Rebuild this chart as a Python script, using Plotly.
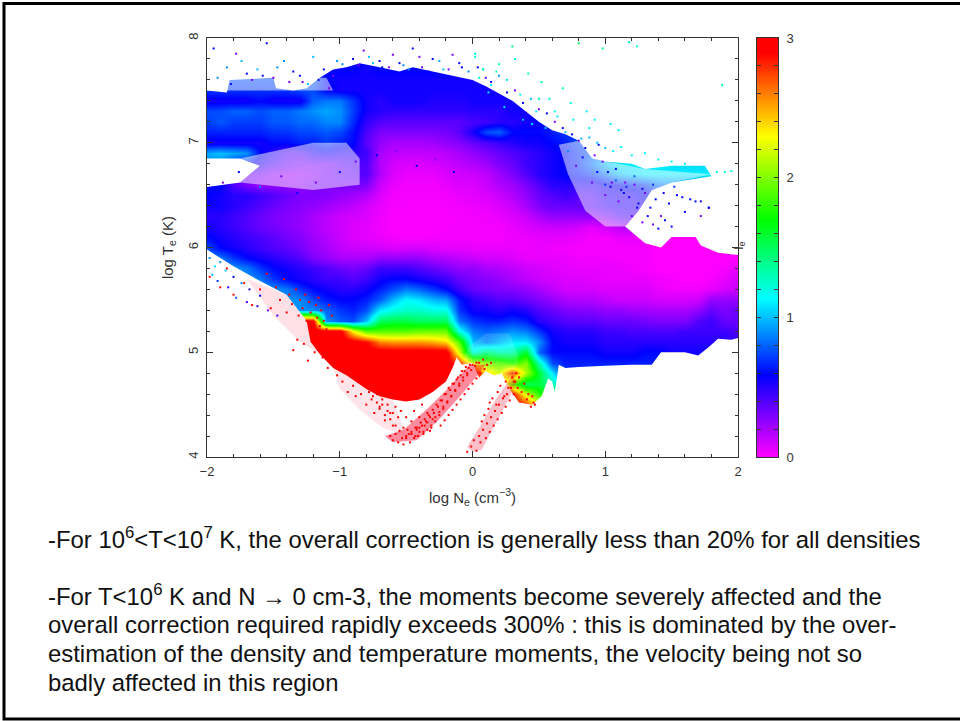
import plotly.graph_objects as go

N = None
# ---- map of I_e: (first log Ne, [I_e every 0.1 dex]) one row per log Te
t78 = (-1.1, [.6,.6,.6,.6,.6,.6,.6,.6])
t77 = (-1.1, [.6,.6,.6,.55,.6,.6,.6,.6,.6,.6,.6,.6])
t76 = (-2.0, [.8,.8,.75,.75,.75,.75,.75,.75,.8,.6,.55,.55,.55,.55,.55,.55,.55,.55,.55,.55,.55,.55,.55])
t75 = (-2.0, [.7,.7,.7,.7,.7,.7,.7,.75,.75,.6,.55,.55,.55,.55,.55,.55,.55,.55,.55,.55,.55,.55,.55,.55])
t74 = (-2.0, [.55,.55,.55,.55,.6,.55,.55,.55,.8,.85,.85,.7,.55,.5,.55,.55,.55,.52,.52,.52,.55,.55,.55,.55,.6])
t73 = (-2.0, [.75,.75,.8,.8,.75,.8,.8,.85,.9,.95,.9,.72,.55,.5,.48,.48,.48,.48,.48,.48,.5,.5,.5,.55,.55,.6])
t72 = (-2.0, [.72,.78,.72,.72,.72,.78,.78,.82,.82,.88,.88,.68,.48,.4,.38,.38,.38,.38,.38,.38,.42,.45,.5,.5,.55,.6,.65])
t71 = (-2.0, [.66,.66,.66,.66,.66,.7,.7,.74,.74,.78,.74,.62,.42,.3,.3,.3,.3,.3,.32,.38,.55,.75,.8,.6,.6,.6,.65,.7,.7])
t70 = (-2.0, [.55,.55,.55,.55,.55,.6,.6,.65,.65,.7,.65,.6,.38,.25,.2,.2,.2,.22,.25,.28,.35,.4,.45,.5,.55,.55,.6,.65,.75,.75])
t69 = (-2.0, [.95,1.0,.95,.9,.6,.5,.4,.4,.5,.55,.5,.5,.45,.2,.15,.14,.14,.14,.16,.2,.25,.3,.35,.4,.45,.5,.55,.6,.7,.8,.85])
t68 = (-2.0, [.9,.9,.7,.6,.5,.4,.35,.3,.3,.3,.35,.4,.4,.18,.1,.08,.08,.1,.12,.15,.18,.22,.3,.35,.45,.5,.55,.6,.7,.85,1,1.1,1.1,1.1,1.1])
t67 = (-2.0, [.6,.6,.5,.35,.3,.25,.22,.22,.25,.3,.35,.35,.4,.18,.08,.05,.05,.05,.08,.1,.12,.15,.22,.3,.4,.5,.55,.6,.65,.7,.85,1.0,1.05,1.1,1.1,1.1,1.1,1.1,1.1])
t66 = (-2.0, [.6,.6,.4,.3,.25,.25,.25,.25,.3,.3,.3,.32,.3,.12,.05,.03,.03,.03,.05,.08,.08,.12,.18,.22,.3,.4,.5,.5,.5,.5,.55,.6,.65,.7])
t65 = (-2.0, [.6,.55,.5,.5,.45,.4,.35,.3,.3,.28,.25,.22,.18,.08,.03,.02,.02,.02,.03,.05,.06,.08,.12,.18,.25,.35,.4,.45,.4,.4,.5,.5,.5])
t64 = (-2.0, [.55,.55,.5,.45,.4,.35,.3,.28,.25,.22,.18,.15,.1,.05,.02,.02,.01,.01,.02,.03,.04,.05,.08,.12,.2,.3,.35,.35,.35,.4,.45,.5])
t63 = (-2.0, [.5,.5,.45,.4,.35,.3,.28,.25,.2,.16,.12,.1,.08,.04,.01,.01,.01,.01,.01,.02,.03,.03,.05,.08,.12,.2,.25,.25,.25,.25,.3,.4,.45])
t62 = (-2.0, [.55,.5,.45,.4,.35,.32,.28,.25,.2,.15,.12,.08,.06,.03,.01,.01,.01,.01,.02,.02,.02,.02,.03,.05,.08,.1,.12,.12,.1,.06,.1,.15,.2,.2])
t61 = (-2.0, [.6,.55,.5,.45,.42,.38,.32,.28,.22,.18,.12,.08,.06,.04,.02,.01,.01,.02,.02,.02,.02,.02,.02,.04,.04,.06,.06,.06,.04,.02,.02,.05,.05,.05,.02,0,0,0,0])
t60 = (-2.0, [.75,.6,.55,.5,.45,.4,.38,.32,.25,.2,.15,.12,.12,.1,.08,.1,.1,.08,.06,.06,.05,.05,.05,.05,.03,.05,.03,.03,.02,.02,.02,.02,.02,.02,0,0,0,0,0,0,0])
t59 = (-2.0, [.9,.85,.7,.6,.55,.5,.45,.4,.3,.25,.2,.2,.2,.25,.25,.25,.25,.2,.18,.15,.12,.1,.1,.08,.05,.05,.05,.05,.03,.03,.03,.02,.02,.02,0,0,0,0,0,0,0])
t58 = (-2.0, [.9,.9,.9,.85,.7,.6,.55,.5,.45,.4,.35,.32,.35,.45,.45,.45,.4,.35,.3,.25,.25,.2,.18,.15,.12,.1,.08,.06,.05,.05,.05,.05,.03,.02,0,0,0,0,0,.02,.05])
t57 = (-2.0, [.9,.9,.9,.9,.85,.7,.6,.55,.5,.45,.45,.4,.45,.55,.6,.6,.55,.5,.45,.35,.3,.28,.25,.2,.15,.12,.1,.08,.08,.07,.05,.05,.05,.05,.03,.02,0,0,.02,.05,.1])
t56 = (-1.6, [.9,.9,.85,.7,.6,.55,.5,.5,.55,.65,.75,.85,.8,.7,.6,.45,.35,.32,.3,.28,.25,.2,.15,.1,.1,.1,.08,.08,.08,.08,.05,.03,.03,.03,.06,.1,.12])
t55 = (-1.5, [.9,.9,.9,.75,.65,.6,.6,.65,.8,1.0,1.15,1.1,1.0,.95,.65,.5,.45,.4,.4,.35,.3,.25,.2,.18,.18,.15,.12,.12,.12,.1,.1,.1,.12,.25,.25,.25])
t54 = (-1.4, [.9,.9,.9,.8,.7,.65,.75,1.1,1.2,1.25,1.25,1.2,1.2,.7,.55,.55,.5,.55,.5,.4,.35,.3,.28,.28,.25,.25,.22,.22,.2,.2,.2,.25,.35,.3,.35])
t53 = (-1.4, [3,3,3,.9,.8,.75,1.0,1.5,1.55,1.55,1.5,1.5,1.5,.85,.7,.65,.65,.7,.65,.5,.45,.4,.38,.38,.35,.35,.35,.32,.3,.3,.3,.4,.45,.35,.35])
t52 = (-1.4, [3,3,3,3,3,2.3,1.9,1.9,1.9,1.9,1.95,1.95,1.95,1.2,.85,.8,.85,.9,.85,.7,.55,.5,.5,.5,.45,.45,.42,.42,.42,.42,.45,.45,.45,.45,.4])
t51 = (-1.4, [3,3,3,3,3,3,2.9,2.6,2.55,2.55,2.55,2.5,2.4,1.9,1.0,.9,1.0,1.1,1.1,.9,.6,.55,.55,.55,.5,.5,.5,.5,.5,.5,.5,.5,.5,.5,.45])
t50 = (-1.4, [3,3,3,3,3,3,3,3,3,3,3,3,3,2.2,1.2,1.4,1.3,1.3,1.6,.8,.6,.6,.6,.6,.55,.55,.55,.6,.6,.55,.55,.55,.55,.5,.45])
t49 = (-1.4, [3,3,3,3,3,3,3,3,3,3,3,3,3,2.8,2.2,2.0,1.9,1.8,2.0,1.3,.75,.65,.65,.65,.65,.65,.65,.65,.65,.6,.6,.6,.6,.6,.6])
t48 = (-1.4, [3,3,3,3,3,3,3,3,3,3,3,3,3,3,3,2.4,2.2,2.8,2.1,1.6,1.1,.7,.7,.7,.7,.7,.7,.7])
t47 = (-1.1, [3,3,3,3,3,3,3,3,3,3,3,3,3,2.6,1.9,1.5])
t46 = (-1.0, [3,3,3,3,3,3,3,3,3,3,3,3,3,2.9,2.2,1.8])
t45 = (-1.0, [3,3,3,3,3,3,3,3,3,3,3,3,3,3,2.8,2.2])
map_rows = {7.8:t78,7.7:t77,7.6:t76,7.5:t75,7.4:t74,7.3:t73,7.2:t72,7.1:t71,7.0:t70,6.9:t69,6.8:t68,6.7:t67,
            6.6:t66,6.5:t65,6.4:t64,6.3:t63,6.2:t62,6.1:t61,6.0:t60,5.9:t59,5.8:t58,5.7:t57,5.6:t56,
            5.5:t55,5.4:t54,5.3:t53,5.2:t52,5.1:t51,5.0:t50,4.9:t49,4.8:t48,4.7:t47,4.6:t46,4.5:t45}

# ---- outlines of the covered area (outside is blank)
top_x = [-2.05,-2.0,-1.85,-1.83,-1.5,-1.48,-1.35,-1.25,-1.15,-1.05,-0.95,-0.85,-0.7,-0.55,-0.45,-0.3,-0.1,0,0.1,0.2,0.3,0.4,0.5,0.6,0.7,0.8,0.9,1.0,1.2,1.3,1.5,1.75,1.8,1.5,1.35,1.25,1.15,1.3,1.42,1.5,1.68,1.72,1.85,2.05,2.05,-2.05]
top_t = [7.5,7.5,7.48,7.6,7.62,7.52,7.5,7.52,7.62,7.7,7.72,7.76,7.72,7.68,7.72,7.68,7.62,7.6,7.54,7.47,7.4,7.3,7.2,7.12,7.08,7.02,6.85,6.82,6.8,6.75,6.78,6.78,6.68,6.62,6.55,6.35,6.2,6.04,6.0,6.1,6.1,6.02,5.95,5.92,8.05,8.05]
notch_x = [-2.05,-1.75,-1.6,-1.75,-2.05]
notch_t = [6.85,6.85,6.78,6.62,6.57]
low_x = [-2.05,-2.0,-1.8,-1.6,-1.4,-1.25,-1.22,-1.15,-1.05,-0.95,-0.8,-0.7,-0.6,-0.5,-0.4,-0.3,-0.2,-0.15,-0.12,-0.08,0.0,0.05,0.1,0.16,0.22,0.28,0.35,0.45,0.52,0.57,0.6,0.62,0.65,0.7,0.8,1.0,1.2,1.35,1.42,1.6,1.7,1.78,1.85,1.95,2.05,2.05,-2.05]
low_t = [6.02,5.98,5.82,5.68,5.55,5.3,5.1,4.98,4.85,4.78,4.65,4.58,4.55,4.53,4.55,4.62,4.72,4.85,4.95,4.88,4.9,4.76,4.82,4.78,4.8,4.65,4.52,4.5,4.58,4.75,4.72,4.62,4.88,4.85,4.86,4.87,4.88,4.88,5.0,5.0,4.97,5.05,5.13,5.12,5.15,3.95,3.95]
# thinly covered parts (paler)
thin1_x = [-1.75,-1.2,-0.95,-0.85,-0.85,-1.2,-1.75,-1.6]
thin1_t = [6.85,7.0,7.0,6.85,6.6,6.55,6.62,6.78]
thin2_x = [0.65,0.8,0.9,1.3,1.8,1.5,1.35,1.25,1.15,1.0,0.85,0.72]
thin2_t = [6.98,7.02,6.85,6.75,6.7,6.62,6.55,6.35,6.2,6.2,6.35,6.7]
thin3_x = [-2.05,-1.1,-1.05,-1.3,-2.05]
thin3_t = [7.62,7.62,7.5,7.5,7.5]
thin4_x = [-0.08,0.0,0.1,0.22,0.28,0.35,0.28,0.1,-0.03]
thin4_t = [4.88,4.9,4.82,4.8,4.65,4.95,5.18,5.18,5.05]
# faint reddish streaks and halo
trail1_x = [-0.6,-0.42,-0.25,-0.1,0.05,0.1,-0.02,-0.18,-0.34,-0.52,-0.66]
trail1_t = [4.14,4.16,4.36,4.57,4.8,4.88,4.88,4.66,4.46,4.26,4.2]
trail2_x = [0.0,0.07,0.2,0.34,0.3,0.17,0.05,-0.04]
trail2_t = [4.05,4.07,4.38,4.72,4.78,4.54,4.28,4.1]
halo1_x = [-1.7,-1.4,-1.25,-1.22,-1.15,-1.3,-1.5]
halo1_t = [5.7,5.55,5.3,5.1,4.98,5.1,5.35]
halo2_x = [-1.05,-0.95,-0.8,-0.7,-0.6,-0.5,-0.68,-0.85,-1.0]
halo2_t = [4.85,4.78,4.65,4.58,4.55,4.2,4.28,4.45,4.65]

# ---- individually visible points
red_x = [-1.98,-1.9,-1.85,-1.8,-1.72,-1.66,-1.6,-1.55,-1.52,-1.48,-1.45,-1.42,-1.4,-1.38,-1.36,-1.33,-1.31,-1.3,-1.28,-1.26,-1.25,-1.23,-1.22,-1.2,-1.18,-1.17,-1.16,-1.15,-1.14,-1.12,-1.1,-1.08,-1.06,-1.05,
         -1.35,-1.32,-1.27,-1.24,-1.21,-1.19,-1.16,-1.13,-1.11,-1.09,-1.06,-1.04,-1.02,-1.0,-0.98,-0.96,-0.94,-0.92,-0.9,-0.88,-0.86,-0.84,-0.82,-0.8,-0.78,-0.76,-0.74,-0.72,-0.7,-0.68,-0.66,-0.64,-0.62,-0.6,-0.58,
         -0.95,-0.9,-0.86,-0.82,-0.78,-0.75,-0.72,-0.7,-0.68,-0.66,-0.64,-0.62,-0.6,-0.58,-0.56,-0.54,-0.52,-0.5,-0.48,-0.46,-0.44,-0.42,-0.4,-0.38,-0.36,-0.34,-0.32,-0.3,
         -0.62,-0.6,-0.58,-0.56,-0.55,-0.53,-0.52,-0.5,-0.49,-0.47,-0.46,-0.44,-0.43,-0.41,-0.4,-0.38,-0.37,-0.35,-0.34,-0.32,-0.31,-0.29,-0.28,-0.26,-0.25,-0.23,-0.22,-0.2,-0.19,-0.17,-0.16,-0.14,-0.13,-0.11,-0.1,-0.08,-0.07,-0.05,-0.04,-0.02,
         -0.5,-0.46,-0.43,-0.4,-0.37,-0.34,-0.31,-0.28,-0.25,-0.22,-0.19,-0.16,-0.13,-0.1,-0.07,-0.04,-0.01,0.02,0.05,0.08,-0.24,-0.21,-0.18,-0.15,-0.12,-0.09,-0.06,-0.03,0.0,0.03,0.06,0.09,0.11,0.14,
         -0.42,-0.39,-0.36,-0.33,-0.3,-0.27,-0.24,-0.21,-0.18,-0.15,-0.12,-0.09,-0.06,-0.03,0.0,0.03,
         -0.04,-0.01,0.01,0.03,0.05,0.06,0.08,0.1,0.11,0.13,0.14,0.16,0.17,0.19,0.2,0.22,0.23,0.25,0.26,0.28,0.29,0.31,0.32,0.34,
         0.07,0.09,0.12,0.13,0.15,0.18,0.19,0.21,0.24,0.25,0.27,0.3,0.31,0.33,0.35,0.37,0.39,0.41,0.44,0.46,0.42,0.45,0.47]
red_t = [5.72,5.62,5.8,5.55,5.66,5.45,5.6,5.75,5.42,5.62,5.5,5.7,5.38,5.55,5.46,5.6,5.35,5.5,5.42,5.55,5.3,5.48,5.38,5.28,5.45,5.33,5.52,5.25,5.4,5.3,5.22,5.45,5.35,5.18,
         5.02,5.12,5.08,4.92,5.1,5.0,5.16,4.95,5.05,4.85,5.0,4.92,4.78,4.88,4.72,4.85,4.62,4.78,4.68,4.58,4.75,4.6,4.7,4.5,4.62,4.55,4.42,4.6,4.48,4.55,4.35,4.5,4.42,4.3,4.48,
         4.98,4.9,4.82,4.74,4.66,4.58,4.52,4.46,4.5,4.4,4.44,4.36,4.42,4.3,4.38,4.44,4.28,4.38,4.22,4.34,4.44,4.26,4.38,4.5,4.3,4.42,4.25,4.36,
         4.2,4.16,4.22,4.14,4.25,4.18,4.12,4.2,4.26,4.14,4.22,4.18,4.28,4.2,4.24,4.3,4.22,4.34,4.26,4.38,4.3,4.42,4.34,4.48,4.4,4.54,4.46,4.6,4.52,4.64,4.58,4.7,4.64,4.76,4.7,4.82,4.76,4.86,4.8,4.88,
         4.18,4.24,4.2,4.28,4.24,4.33,4.28,4.38,4.43,4.48,4.53,4.58,4.63,4.68,4.73,4.78,4.83,4.87,4.9,4.93,4.3,4.35,4.4,4.45,4.5,4.55,4.6,4.65,4.7,4.75,4.8,4.84,4.88,4.9,
         4.28,4.33,4.36,4.4,4.45,4.5,4.54,4.6,4.66,4.7,4.74,4.78,4.82,4.85,4.88,4.9,
         4.05,4.1,4.16,4.06,4.2,4.14,4.26,4.18,4.32,4.24,4.38,4.3,4.44,4.36,4.5,4.42,4.56,4.48,4.6,4.54,4.66,4.6,4.72,4.66,
         4.34,4.4,4.46,4.52,4.56,4.5,4.62,4.68,4.58,4.72,4.66,4.76,4.72,4.8,4.76,4.62,4.7,4.55,4.48,4.52,4.6,4.58,4.5]

blue_x = [-1.95,-1.85,-1.78,-1.7,-1.62,-1.55,-1.5,-1.42,-1.35,-1.28,-1.2,-1.12,-1.05,-0.98,-0.9,-0.82,-0.75,-0.68,-0.6,-0.52,-0.45,-0.38,-0.3,-0.22,-0.15,-0.08,
          -1.92,-1.82,-1.74,-1.66,-1.58,-1.47,-1.38,-1.3,-1.24,-1.16,-1.08,-1.02,-0.94,-0.86,-0.78,-0.7,-0.63,-0.55,-0.48,-0.4,-0.33,-0.25,-0.18,-0.1,-0.03,0.04,0.1,
          -1.98,-1.88,-1.76,-1.6,-1.44,-1.32,-1.18,-1.0,-0.88,-0.72,-0.58,-0.42,-0.28,-0.14,0.02,0.08,0.14,0.2,0.26,0.32,0.38,0.44,0.5,0.56,0.62,0.68,
          0.75,0.8,0.85,0.88,0.92,0.95,0.98,1.02,1.05,1.08,1.12,1.15,1.18,1.22,1.25,1.3,1.34,1.38,1.42,1.48,1.54,1.6,1.68,1.72,1.78,
          0.72,0.78,0.83,0.9,0.94,1.0,1.04,1.1,1.14,1.2,1.24,1.28,1.32,1.36,1.4,1.45,1.5]
blue_t = [7.9,7.72,7.85,7.66,7.7,7.95,7.62,7.78,7.68,7.58,7.82,7.7,7.64,7.75,7.8,7.88,7.76,7.72,7.84,7.74,7.9,7.72,7.8,7.7,7.84,7.72,
          7.62,7.56,7.78,7.6,7.64,7.72,7.58,7.64,7.56,7.6,7.52,7.78,7.7,7.74,7.82,7.78,7.72,7.76,7.7,7.82,7.68,7.78,7.7,7.76,7.68,7.72,7.62,
          6.55,6.62,6.72,6.58,6.68,6.52,6.62,6.72,6.82,6.88,6.92,6.78,6.84,6.72,7.85,7.7,7.58,7.64,7.48,7.5,7.38,7.42,7.32,7.28,7.2,7.14,
          7.08,7.02,6.95,7.05,6.88,6.98,6.82,6.72,6.62,6.75,6.55,6.62,6.48,6.6,6.42,6.52,6.38,6.46,6.3,6.42,6.5,6.34,6.44,6.3,6.38,
          6.92,6.78,6.86,6.62,6.72,6.5,6.58,6.44,6.52,6.3,6.38,6.24,6.3,6.22,6.18,6.26,6.2]
blue_z = [.6,.9,.3,.6,1.0,.6,.3,.9,.6,.3,1.0,.6,.3,.9,.6,.3,1.0,.6,.3,.9,.6,.3,.6,1.0,.3,.6,
          .9,.6,1.0,.3,.6,.9,.3,.6,1.0,.6,.3,.9,.6,.3,1.0,.6,.3,.6,.9,.3,.6,1.0,.3,.6,.9,.6,.3,
          .6,.3,.6,.9,.3,.6,.3,.6,.3,.6,.3,.6,.3,.6,1.2,1.1,.6,.9,.6,.3,.6,1.0,.3,.6,.3,.6,
          .6,.3,.6,1.0,.3,.6,.3,.6,.3,.6,.6,.3,.6,.3,.6,.3,.6,.6,.3,.6,.6,.6,.6,.3,.6,
          .9,.3,.6,.3,.6,.3,.6,.3,.6,.3,.6,.3,.6,.3,.6,.6,.6]

cyan_x = [0.02,0.08,0.14,0.2,0.26,0.3,0.36,0.42,0.48,0.52,0.58,0.64,0.68,0.74,0.8,0.86,0.92,0.98,1.04,1.1,1.18,1.24,1.88,
          0.05,0.12,0.18,0.24,0.32,0.38,0.45,0.5,0.55,0.62,0.7,0.76,0.82,0.88,0.94,1.0,1.06,1.12,1.2,1.3,1.4,1.5,1.6,1.7,1.76,1.84,1.9,1.95,
          1.0,1.08,1.16,1.22,1.28,1.36,1.44,1.52,1.58,1.64,1.72,1.78,-1.98,-1.94,-1.9,-1.86,-1.8,-1.74,-1.68,-1.6,-1.96,-1.92,-1.84,-1.78,-1.7,-1.62,-1.54,-1.47]
cyan_t = [7.82,7.7,7.55,7.75,7.6,7.92,7.46,7.66,7.3,7.58,7.42,7.25,7.52,7.38,7.95,7.3,7.22,7.9,7.18,7.12,7.96,7.92,7.55,
          7.62,7.48,7.68,7.34,7.8,7.22,7.18,7.42,7.14,7.3,7.1,7.22,7.04,7.14,7.0,6.95,6.92,6.96,6.88,6.9,6.84,6.82,6.8,6.76,6.74,6.72,6.72,6.73,
          6.6,6.64,6.58,6.68,6.56,6.6,6.52,6.58,6.48,6.46,6.44,6.38,5.9,5.82,5.86,5.78,5.72,5.66,5.6,5.54,5.74,5.68,5.62,5.52,5.48,5.44,5.4,5.35]
cyan_z = [1.2,1.3,1.2,1.3,1.1,1.4,1.2,1.3,1.1,1.3,1.2,1.1,1.3,1.2,1.5,1.1,1.1,1.4,1.1,1.1,1.3,1.2,1.3,
          1.2,1.1,1.3,1.1,1.2,1.0,1.1,1.3,1.0,1.2,1.0,1.1,1.0,1.1,1.0,1.0,1.1,1.1,1.1,1.1,1.1,1.2,1.1,1.1,1.1,1.2,1.2,1.2,
          .7,.8,.7,.8,.6,.7,.6,.7,.6,.6,.6,.6,.9,1.1,.9,1.0,.6,.9,.5,.6,1.0,.7,.5,.8,.4,.5,.3,.4]

x_ticks_major = [-2, -1, 0, 1, 2]
y_ticks_major = [4, 5, 6, 7, 8]
bar_ticks = [0, 1, 2, 3]
colour_stops = [(0, "#ff00ff"), (0.59, "#0000ff"), (1.14, "#00ffff"), (1.70, "#00ff00"), (2.30, "#ffff00"), (2.9, "#ff0000"), (3, "#ff0000")]
note_lines = [
    "-For 10<sup>6</sup><T<10<sup>7</sup> K, the overall correction is generally less than 20% for all densities",
    "-For T<10<sup>6</sup> K and N → 0 cm-3, the moments become severely affected and the",
    "overall correction required rapidly exceeds 300% : this is dominated by the over-",
    "estimation of the density and temperature moments, the velocity being not so",
    "badly affected in this region",
]
note_y_px = [538, 595, 624, 653, 682]

W, H = 960, 721
px = lambda v: v / W
py = lambda v: 1 - v / H
NE = [round(-2 + 0.1 * i, 1) for i in range(41)]
TE = [round(8 - 0.1 * i, 1) for i in range(41)]


def grid(rows):
    g = [[None] * len(NE) for _ in TE]
    for t, (start, vals) in rows.items():
        r = TE.index(t)
        c0 = NE.index(start)
        for k, v in enumerate(vals):
            g[r][c0 + k] = v
    return g


fig = go.Figure()
fig.add_trace(go.Heatmap(x=NE, y=TE, z=grid(map_rows), coloraxis="coloraxis", zsmooth="best", connectgaps=True, hoverinfo="skip"))


def area(x, y, colour):
    fig.add_trace(go.Scatter(x=x + x[:1], y=y + y[:1], mode="lines", line_width=0, fill="toself", fillcolor=colour, hoverinfo="skip"))


for ax_, at_ in [(top_x, top_t), (notch_x, notch_t), (low_x, low_t)]:
    area(ax_, at_, "white")
for ax_, at_ in [(thin1_x, thin1_t), (thin2_x, thin2_t), (thin3_x, thin3_t)]:
    area(ax_, at_, "rgba(255,255,255,0.5)")
area(thin4_x, thin4_t, "rgba(255,255,255,0.15)")
area(trail1_x, trail1_t, "rgba(255,0,40,0.45)")
area(trail2_x, trail2_t, "rgba(255,0,40,0.25)")
area(halo1_x, halo1_t, "rgba(255,0,40,0.12)")
area(halo2_x, halo2_t, "rgba(255,0,40,0.1)")
mk = dict(symbol="square", size=2, line_width=0, coloraxis="coloraxis")
fig.add_trace(go.Scatter(x=red_x, y=red_t, mode="markers", marker=dict(color=[3] * len(red_x), **mk), hoverinfo="skip"))
fig.add_trace(go.Scatter(x=blue_x, y=blue_t, mode="markers", marker=dict(color=blue_z, **mk), hoverinfo="skip"))
fig.add_trace(go.Scatter(x=cyan_x, y=cyan_t, mode="markers", marker=dict(color=cyan_z, **mk), hoverinfo="skip"))
bar_levels = [round(i * 0.02, 2) for i in range(151)]
fig.add_trace(go.Heatmap(x=[0, 1], y=bar_levels, z=[[v, v] for v in bar_levels], coloraxis="coloraxis", zsmooth="best", xaxis="x2", yaxis="y2", hoverinfo="skip"))

axis_font = dict(family="Liberation Sans", size=13, color="#333333")
title_font = dict(family="Liberation Sans", size=15, color="#333333")
axc = "#333333"
fig.update_layout(
    width=W, height=H, autosize=False, margin=dict(l=0, r=0, t=0, b=0, pad=0, autoexpand=False), paper_bgcolor="white", plot_bgcolor="white", showlegend=False,
    coloraxis=dict(cmin=0, cmax=3, showscale=False, colorscale=[[v / 3, c] for v, c in colour_stops]),
    xaxis=dict(domain=[px(207), px(738)], range=[-2, 2], tickvals=x_ticks_major, ticktext=["\u22122", "\u22121", "0", "1", "2"],
               ticks="inside", ticklen=6, tickcolor=axc, tickwidth=1, showline=True, linecolor=axc, mirror="ticks", showgrid=False, zeroline=False,
               minor=dict(dtick=0.2, tick0=-2, ticks="inside", ticklen=3, tickcolor=axc, showgrid=False), tickfont=axis_font, anchor="y", automargin=False, ticklabelstandoff=2,
               title=dict(text="log N<sub>e</sub> (cm<sup>\u22123</sup>)", font=title_font, standoff=14)),
    yaxis=dict(domain=[py(457), py(38)], range=[4, 8], tickvals=y_ticks_major, tickangle=-90,
               ticks="inside", ticklen=6, tickcolor=axc, tickwidth=1, showline=True, linecolor=axc, mirror="ticks", showgrid=False, zeroline=False,
               minor=dict(dtick=0.2, tick0=4, ticks="inside", ticklen=3, tickcolor=axc, showgrid=False), tickfont=axis_font, anchor="x", automargin=False, ticklabelstandoff=3,
               title=dict(text="log T<sub>e</sub> (K)", font=title_font, standoff=8)),
    xaxis2=dict(domain=[px(757), px(778)], range=[0, 1], showticklabels=False, ticks="", showline=True, linecolor=axc, mirror=True, showgrid=False, zeroline=False, anchor="y2"),
    yaxis2=dict(domain=[py(457), py(38)], range=[0, 3], side="right", tickvals=bar_ticks, anchor="x2", ticks="inside", ticklen=4, tickcolor=axc, ticklabelstandoff=5,
                showline=True, linecolor=axc, mirror="ticks", showgrid=False, zeroline=False, tickfont=axis_font,
                minor=dict(dtick=0.2, tick0=0, ticks="inside", ticklen=4, tickcolor=axc, showgrid=False)),
    shapes=[dict(type="rect", xref="paper", yref="paper", x0=px(4), x1=px(975), y0=py(719), y1=py(3.5), line=dict(color="black", width=3), fillcolor="rgba(0,0,0,0)", layer="below")],
)
annotations = [dict(text=t, xref="paper", yref="paper", x=px(45.5), y=py(y), xanchor="left", yanchor="middle", showarrow=False, align="left",
                    font=dict(family="Liberation Sans", size=23.9, color="#111111")) for t, y in zip(note_lines, note_y_px)]
annotations.append(dict(text="l<sub>e</sub>", xref="paper", yref="paper", x=px(749), y=py(246), textangle=-90, showarrow=False, font=axis_font))
fig.update_layout(annotations=annotations)

fig.write_html("out.html", config=dict(displayModeBar=False, responsive=False), default_width="960px", default_height="721px",
               post_script="document.body.style.margin='0';document.body.style.overflow='hidden';")
